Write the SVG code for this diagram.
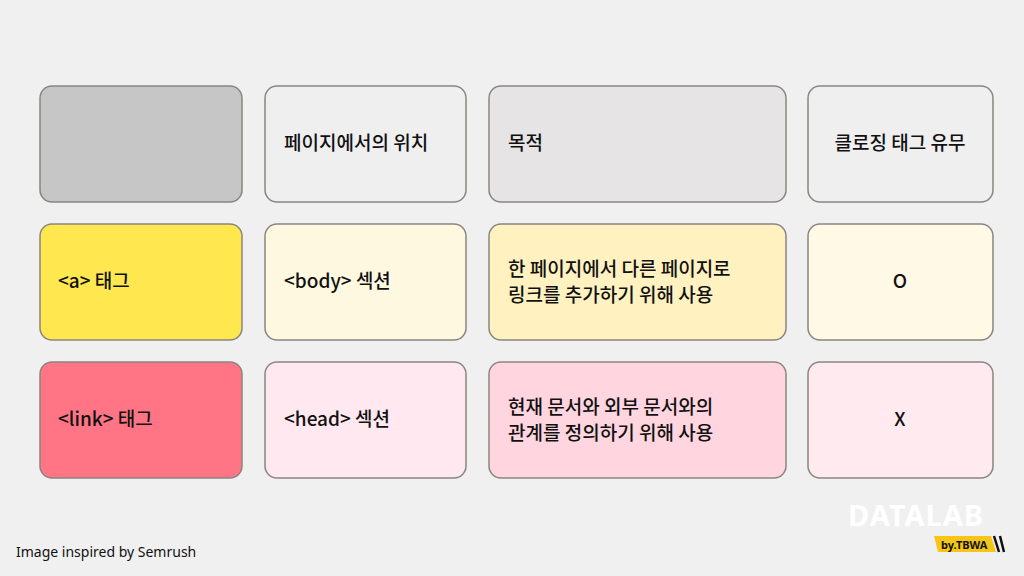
<svg xmlns="http://www.w3.org/2000/svg" width="1024" height="576" viewBox="0 0 1024 576">
<style>
.b{stroke:#8a8580;stroke-width:1.5}
.t{font-family:"Noto Sans CJK KR","Noto Sans",sans-serif;font-size:19px;font-weight:500;fill:#111}
</style>
<rect width="1024" height="576" fill="#f0f0f0"/>
<g id="h1"><rect class="b" x="40" y="86" width="202" height="116" rx="12" fill="#c6c6c6"/></g>
<g id="h2"><rect class="b" x="265" y="86" width="201" height="116" rx="12" fill="#efefef"/><text class="t" x="284" y="150">페이지에서의 위치</text></g>
<g id="h3"><rect class="b" x="489" y="86" width="297" height="116" rx="12" fill="#e6e4e4"/><text class="t" x="508" y="150">목적</text></g>
<g id="h4"><rect class="b" x="808" y="86" width="185" height="116" rx="12" fill="#efefef"/><text class="t" x="900" y="150" text-anchor="middle">클로징 태그 유무</text></g>
<g id="a1"><rect class="b" x="40" y="224" width="202" height="116" rx="12" fill="#ffe74f"/><text class="t" x="58" y="288">&lt;a&gt; 태그</text></g>
<g id="a2"><rect class="b" x="265" y="224" width="201" height="116" rx="12" fill="#fff8e0"/><text class="t" x="284" y="288">&lt;body&gt; 섹션</text></g>
<g id="a3"><rect class="b" x="489" y="224" width="297" height="116" rx="12" fill="#fff2c0"/><text class="t" x="508" y="276">한 페이지에서 다른 페이지로</text><text class="t" x="508" y="302">링크를 추가하기 위해 사용</text></g>
<g id="a4"><rect class="b" x="808" y="224" width="185" height="116" rx="12" fill="#fff9e6"/><text class="t" x="900" y="288" text-anchor="middle">O</text></g>
<g id="l1"><rect class="b" x="40" y="362" width="202" height="116" rx="12" fill="#ff7585"/><text class="t" x="58" y="426">&lt;link&gt; 태그</text></g>
<g id="l2"><rect class="b" x="265" y="362" width="201" height="116" rx="12" fill="#ffe8ef"/><text class="t" x="284" y="426">&lt;head&gt; 섹션</text></g>
<g id="l3"><rect class="b" x="489" y="362" width="297" height="116" rx="12" fill="#ffd5df"/><text class="t" x="508" y="414">현재 문서와 외부 문서와의</text><text class="t" x="508" y="440">관계를 정의하기 위해 사용</text></g>
<g id="l4"><rect class="b" x="808" y="362" width="185" height="116" rx="12" fill="#ffeaf0"/><text class="t" x="900" y="426" text-anchor="middle">X</text></g>
<text x="16" y="557" font-family="Noto Sans, sans-serif" font-size="14" fill="#111">Image inspired by Semrush</text>
<g id="logo">
<text x="848" y="526" font-family="Noto Sans, sans-serif" font-weight="bold" font-size="29" fill="#fff" letter-spacing="1">DATALAB</text>
<polygon points="934,536 991,536 996,552 938,552" fill="#f5c518"/>
<text x="941" y="549" font-family="Noto Sans, sans-serif" font-weight="bold" font-size="11" fill="#111">by.TBWA</text>
<path d="M994,536 L999,552 M1000,536 L1004,552" stroke="#111" stroke-width="2.5"/>
</g>
</svg>
